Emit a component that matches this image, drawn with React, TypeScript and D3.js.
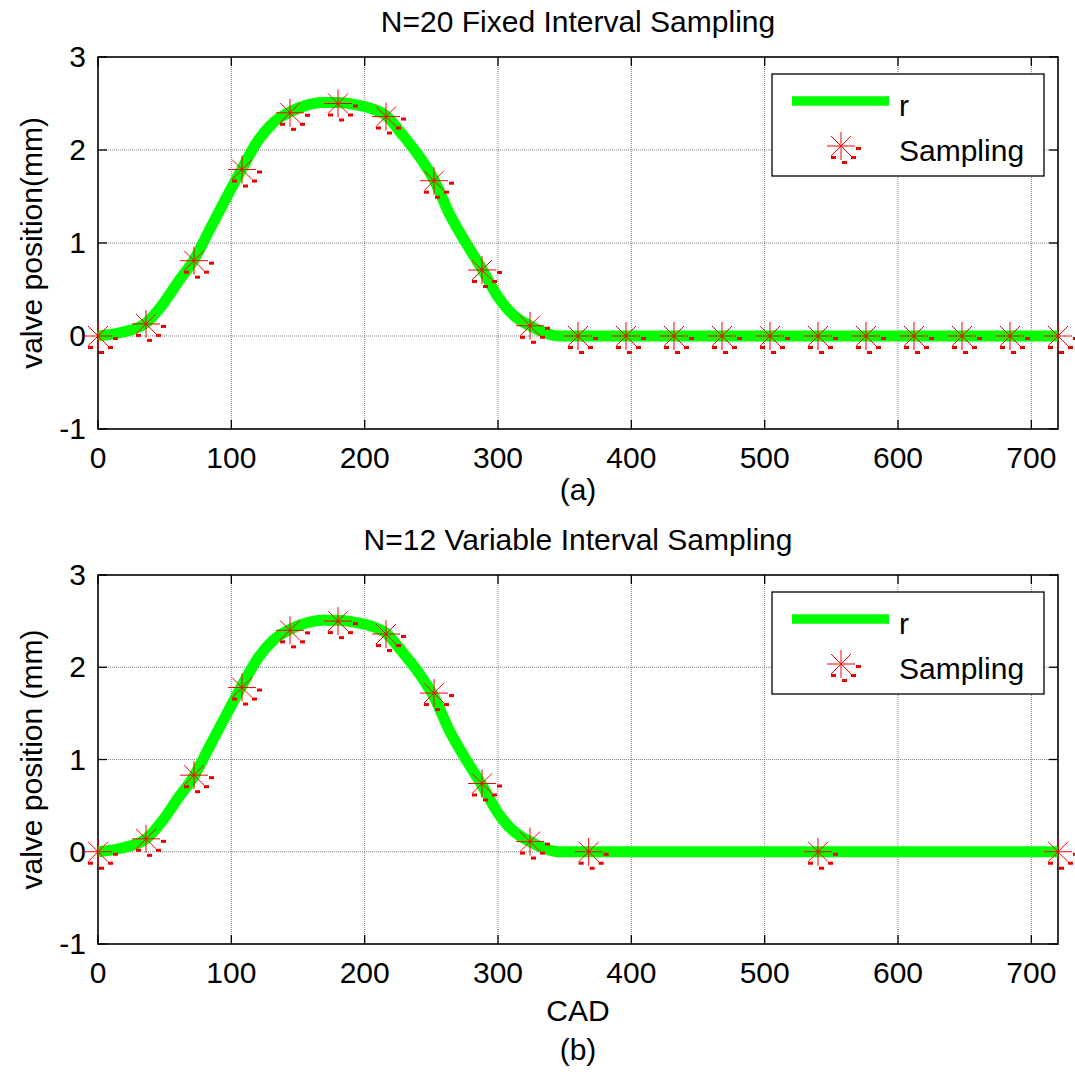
import React from "react";
import * as d3 from "d3";

// Valve lift profile r over crank angle (CAD, deg) -> lift (mm)
const profileCad = [0, 18, 36, 48, 60, 72, 84, 96, 108, 120, 132, 144, 156, 168, 180, 192, 204, 216, 228, 240, 252, 264, 276, 288, 300, 312, 324, 336, 345, 720];
const profileLift = [0, 0.04, 0.14, 0.33, 0.58, 0.82, 1.15, 1.48, 1.8, 2.1, 2.3, 2.41, 2.48, 2.51, 2.51, 2.49, 2.45, 2.37, 2.17, 1.95, 1.68, 1.3, 1.0, 0.72, 0.42, 0.22, 0.11, 0.03, 0, 0];

// Fixed-interval sampling, N = 20
const fixedCad = [0, 36, 72, 108, 144, 180, 216, 252, 288, 324, 360, 396, 432, 468, 504, 540, 576, 612, 648, 684, 720];
const fixedLift = [0, 0.13, 0.81, 1.79, 2.4, 2.5, 2.36, 1.67, 0.71, 0.11, 0, 0, 0, 0, 0, 0, 0, 0, 0, 0, 0];

// Variable-interval sampling, N = 12
const variableCad = [0, 36, 72, 108, 144, 180, 216, 252, 288, 324, 368, 540, 720];
const variableLift = [0, 0.14, 0.83, 1.78, 2.4, 2.5, 2.36, 1.72, 0.74, 0.11, 0, 0, 0];

const xTicks = [0, 100, 200, 300, 400, 500, 600, 700];
const yTicks = [-1, 0, 1, 2, 3];

const FONT = "'Liberation Sans', Arial, Helvetica, sans-serif";
const FS = 30;
const W = 1075;
const H = 1072;
const LEFT = 98;
const RIGHT = 1058;

type PanelProps = {
  top: number;
  bottom: number;
  title: string;
  ylabel: string;
  sampleCad: number[];
  sampleLift: number[];
  xlabel?: string;
  caption: string;
  captionY: number;
};

function Asterisk({ x, y }: { x: number; y: number }) {
  const r = 14;
  const d = 10;
  return (
    <g>
      <line x1={x - r} y1={y} x2={x + r} y2={y} stroke="#ff0000" strokeWidth={1} />
      <line x1={x} y1={y - r} x2={x} y2={y + r} stroke="#ff0000" strokeWidth={1} />
      <line x1={x - d} y1={y - d} x2={x + d} y2={y + d} stroke="#ff0000" strokeWidth={1} />
      <line x1={x - d} y1={y + d} x2={x + d} y2={y - d} stroke="#ff0000" strokeWidth={1} />
      <rect x={x + 15} y={y + 1} width={5} height={3} fill="#ee0000" />
      <rect x={x + 10} y={y + 10} width={5} height={3} fill="#ee0000" />
      <rect x={x + 1} y={y + 15} width={5} height={3} fill="#ee0000" />
      <rect x={x - 10} y={y + 10} width={5} height={3} fill="#ee0000" />
    </g>
  );
}

function Panel(p: PanelProps) {
  const x = d3.scaleLinear().domain([0, 720]).range([LEFT, RIGHT]);
  const y = d3.scaleLinear().domain([-1, 3]).range([p.bottom, p.top]);
  const line = d3
    .line<number>()
    .x((_, i) => x(profileCad[i]))
    .y((v) => y(v))
    .curve(d3.curveMonotoneX);
  const path = line(profileLift) || "";
  const tickLen = 9;
  const midY = (p.top + p.bottom) / 2;
  const legX = 772;
  const legY = p.top + 17;
  return (
    <g>
      <text x={578} y={p.top - 25} textAnchor="middle" fontSize={FS} fontFamily={FONT}>
        {p.title}
      </text>
      {/* grid */}
      {xTicks.slice(1).map((t) => (
        <line key={"gx" + t} x1={x(t)} x2={x(t)} y1={p.top} y2={p.bottom} stroke="#808080" strokeWidth={1} strokeDasharray="1,1" />
      ))}
      {yTicks.slice(1, -1).map((t) => (
        <line key={"gy" + t} x1={LEFT} x2={RIGHT} y1={y(t)} y2={y(t)} stroke="#808080" strokeWidth={1} strokeDasharray="1,1" />
      ))}
      {/* box */}
      <rect x={LEFT} y={p.top} width={RIGHT - LEFT} height={p.bottom - p.top} fill="none" stroke="#000" strokeWidth={1.6} />
      {xTicks.map((t) => (
        <g key={"tx" + t}>
          <line x1={x(t)} x2={x(t)} y1={p.bottom} y2={p.bottom - tickLen} stroke="#000" strokeWidth={1.3} />
          <line x1={x(t)} x2={x(t)} y1={p.top} y2={p.top + tickLen} stroke="#000" strokeWidth={1.3} />
          <text x={x(t)} y={p.bottom + 39} textAnchor="middle" fontSize={FS} fontFamily={FONT}>
            {t}
          </text>
        </g>
      ))}
      {yTicks.map((t) => (
        <g key={"ty" + t}>
          <line x1={LEFT} x2={LEFT + tickLen} y1={y(t)} y2={y(t)} stroke="#000" strokeWidth={1.3} />
          <line x1={RIGHT} x2={RIGHT - tickLen} y1={y(t)} y2={y(t)} stroke="#000" strokeWidth={1.3} />
          <text x={86} y={y(t) + 10} textAnchor="end" fontSize={FS} fontFamily={FONT}>
            {t}
          </text>
        </g>
      ))}
      <text
        transform={`translate(42,${midY}) rotate(-90)`}
        textAnchor="middle"
        fontSize={FS}
        fontFamily={FONT}
      >
        {p.ylabel}
      </text>
      {/* profile */}
      <path d={path} fill="none" stroke="#00ff00" strokeWidth={11} strokeLinejoin="round" />
      {p.sampleCad.map((c, i) => (
        <Asterisk key={"s" + i} x={x(c)} y={y(p.sampleLift[i])} />
      ))}
      {/* legend */}
      <rect x={legX} y={legY} width={272} height={102} fill="#fff" stroke="#000" strokeWidth={1.3} />
      <line x1={792} x2={889} y1={legY + 27} y2={legY + 27} stroke="#00ff00" strokeWidth={9.5} />
      <text x={899} y={legY + 42} fontSize={FS} fontFamily={FONT}>
        r
      </text>
      <Asterisk x={841} y={legY + 72} />
      <text x={899} y={legY + 87} fontSize={FS} fontFamily={FONT}>
        Sampling
      </text>
      {p.xlabel && (
        <text x={578} y={p.bottom + 77} textAnchor="middle" fontSize={FS} fontFamily={FONT}>
          {p.xlabel}
        </text>
      )}
      <text x={578} y={p.captionY} textAnchor="middle" fontSize={FS} fontFamily={FONT}>
        {p.caption}
      </text>
    </g>
  );
}

export default function App() {
  return (
    <svg width={W} height={H} style={{ display: "block", position: "absolute", left: 0, top: 0, background: "#fff" }}>
      <rect x={0} y={0} width={W} height={H} fill="#fff" />
      <Panel
        top={57}
        bottom={429}
        title="N=20 Fixed Interval Sampling"
        ylabel="valve position(mm)"
        sampleCad={fixedCad}
        sampleLift={fixedLift}
        caption="(a)"
        captionY={500}
      />
      <Panel
        top={575}
        bottom={944}
        title="N=12 Variable Interval Sampling"
        ylabel="valve position (mm)"
        sampleCad={variableCad}
        sampleLift={variableLift}
        xlabel="CAD"
        caption="(b)"
        captionY={1060}
      />
    </svg>
  );
}
